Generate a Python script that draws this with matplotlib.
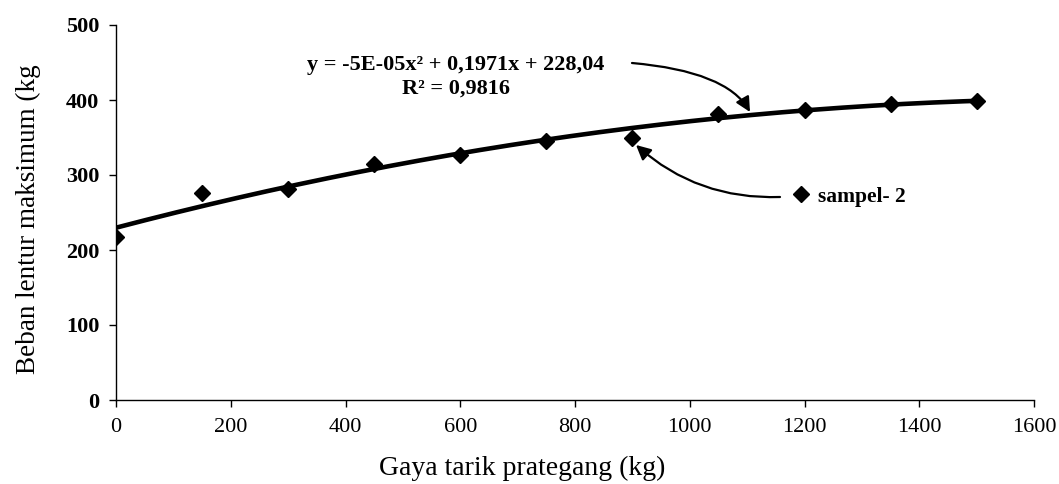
import numpy as np
import matplotlib
matplotlib.use("Agg")
import matplotlib.pyplot as plt

# Gaya tarik vs beban lentur (sampel-2)
gaya_tarik = [0, 150, 300, 450, 600, 750, 900, 1050, 1200, 1350, 1500]
beban_lentur = [217, 276, 281, 315, 327, 345, 350, 382, 387, 395, 399]

x_ticks = [0, 200, 400, 600, 800, 1000, 1200, 1400, 1600]
y_ticks = [0, 100, 200, 300, 400, 500]

eq_text = "y = -5E-05x\u00b2 + 0,1971x + 228,04\nR\u00b2 = 0,9816"

plt.rcParams['font.family'] = ['Liberation Serif', 'DejaVu Serif']

W, H = 1059, 484
fig = plt.figure(figsize=(W / 100, H / 100), dpi=100)
ax = fig.add_axes([116 / W, 84 / H, 918 / W, 375 / H])

# polynomial trendline (order 2), same as spreadsheet trendline
coef = np.polyfit(gaya_tarik, beban_lentur, 2)
xs = np.linspace(0, 1500, 200)
ax.plot(xs, np.polyval(coef, xs), color='black', lw=3.3, solid_capstyle='round', zorder=2)

ax.plot(gaya_tarik, beban_lentur, linestyle='none', marker='D', markersize=8,
        color='black', label='sampel- 2', zorder=3)

ax.set_xlim(0, 1600)
ax.set_ylim(0, 500)
ax.set_xticks(x_ticks)
ax.set_yticks(y_ticks)

for s in ['top', 'right']:
    ax.spines[s].set_visible(False)
for s in ['left', 'bottom']:
    ax.spines[s].set_linewidth(1.0)

ax.tick_params(axis='x', direction='out', length=5, width=1, pad=8, labelsize=16)
ax.tick_params(axis='y', direction='out', length=5, width=1, pad=7, labelsize=16)
for lbl in ax.get_yticklabels():
    lbl.set_fontweight('bold')

ax.set_xlabel('Gaya tarik prategang (kg)', fontsize=20)
ax.set_ylabel('Beban lentur maksimum (kg', fontsize=19.5)
ax.xaxis.set_label_coords(0.443, -0.148)
ax.yaxis.set_label_coords(-0.082, 0.483)

# trendline equation
fig.text(456 / W, 1 - 77 / H, eq_text, ha='center', va='center',
         fontsize=16, fontweight='bold', linespacing=1.25)

ax.annotate('', xy=(750, H - 112), xycoords='figure pixels',
            xytext=(632, H - 63), textcoords='figure pixels',
            arrowprops=dict(arrowstyle='-|>', color='black', lw=1.6,
                            mutation_scale=22, shrinkA=0, shrinkB=0,
                            connectionstyle='angle3,angleA=-5,angleB=-60'))

ax.legend(loc='center left', bbox_to_anchor=(792 / W, 1 - 197 / H),
          bbox_transform=fig.transFigure, frameon=False, numpoints=1,
          handlelength=0.8, handletextpad=0.4, borderpad=0, borderaxespad=0,
          prop={'size': 15.5, 'weight': 'bold'})

# arrow from legend to the trendline
ax.annotate('', xy=(636, H - 145), xycoords='figure pixels',
            xytext=(780, H - 197), textcoords='figure pixels',
            arrowprops=dict(arrowstyle='-|>', color='black', lw=1.6,
                            mutation_scale=22, shrinkA=0, shrinkB=0,
                            connectionstyle='arc3,rad=-0.2'))

fig.savefig('out.png', dpi=100)
